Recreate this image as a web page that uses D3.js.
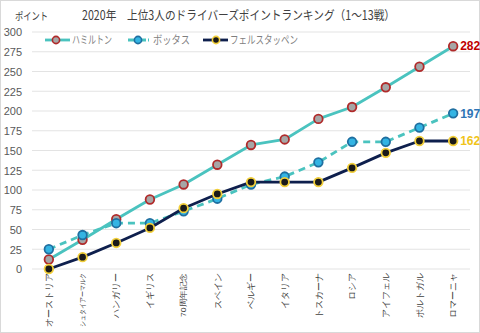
<!DOCTYPE html>
<html><head><meta charset="utf-8">
<script src="https://cdn.jsdelivr.net/npm/d3@7"></script>
<style>
html,body{margin:0;padding:0;background:#fff;}
svg{display:block;font-family:"Noto Sans CJK JP","Noto Sans",sans-serif;}
</style></head>
<body>
<svg id="c" width="480" height="333"></svg>
<script>
const categories = ["オーストリア","シュタイアーマルク","ハンガリー","イギリス","70周年記念","スペイン","ベルギー","イタリア","トスカーナ","ロシア","アイフェル","ポルトガル","ロマーニャ"];
const hamilton   = [12, 37, 63, 88, 107, 132, 157, 164, 190, 205, 230, 256, 282];
const bottas     = [25, 43, 58, 58, 73, 89, 107, 117, 135, 161, 161, 179, 197];
const verstappen = [0, 15, 33, 52, 77, 95, 110, 110, 110, 128, 147, 162, 162];
const seriesNames = ["ハミルトン","ボッタス","フェルスタッペン"];
const yTicks = [0,25,50,75,100,125,150,175,200,225,250,275,300];
const title = "2020年　上位3人のドライバーズポイントランキング（1～13戦）";
const yTitle = "ポイント";

const svg = d3.select("#c");
svg.append("rect").attr("x",0.5).attr("y",0.5).attr("width",479).attr("height",332)
  .attr("fill","#fff").attr("stroke","#d9d9d9");

const x = d3.scaleBand().domain(categories).range([32,470]);
const y = d3.scaleLinear().domain([0,300]).range([269,32]);
const cx = d => x(d) + x.bandwidth()/2;

// grid
svg.append("g").selectAll("line").data(yTicks).join("line")
  .attr("x1",32).attr("x2",470).attr("y1",d=>y(d)).attr("y2",d=>y(d))
  .attr("stroke","#e3e3e3").attr("stroke-width",1);

// y axis labels
const yAxis = d3.axisLeft(y).tickValues(yTicks).tickSize(0).tickPadding(10);
const gy = svg.append("g").attr("transform","translate(32,0)").call(yAxis);
gy.select(".domain").remove();
gy.selectAll("text").attr("font-size",11).attr("fill","#595959")
  .attr("font-family","Liberation Sans, Arial, sans-serif").attr("dy","0.35em");

// x axis labels
const xAxis = d3.axisBottom(x).tickSize(0).tickPadding(0);
const gx = svg.append("g").attr("transform","translate(0,273)").call(xAxis);
gx.select(".domain").remove();
gx.selectAll("text")
  .attr("transform","rotate(-90)")
  .attr("text-anchor","end").attr("x",0).attr("y",0).attr("dy","0.35em")
  .attr("font-size",9.2).attr("fill","#404040").attr("font-weight",500)
  .each(function(d){
    if(d==="シュタイアーマルク"){ d3.select(this).attr("font-size",7).attr("textLength",54).attr("lengthAdjust","spacingAndGlyphs"); }
    if(d==="70周年記念"){ d3.select(this).attr("font-size",8).attr("textLength",44).attr("lengthAdjust","spacingAndGlyphs"); }
  });

const line = d3.line().x((d,i)=>cx(categories[i])).y(d=>y(d));

const styles = [
  {data:hamilton, line:"#4ac3bf", dash:null, fill:"#a6a6a6", stroke:"#b02a2a", label:"#c00000"},
  {data:bottas, line:"#4ac3bf", dash:"7,5", fill:"#33b4e3", stroke:"#1f6fa0", label:"#2e75b6"},
  {data:verstappen, line:"#0e1f4d", dash:null, fill:"#1a1a1a", stroke:"#f2cf3a", label:"#f0c419"}
];

styles.forEach(s=>{
  svg.append("path").datum(s.data).attr("d",line).attr("fill","none")
    .attr("stroke",s.line).attr("stroke-width",2.8).attr("stroke-dasharray",s.dash)
    .attr("stroke-linejoin","round");
  svg.append("g").selectAll("circle").data(s.data).join("circle")
    .attr("cx",(d,i)=>cx(categories[i])).attr("cy",d=>y(d)).attr("r",4.3)
    .attr("fill",s.fill).attr("stroke",s.stroke).attr("stroke-width",1.8);
  const last = s.data[s.data.length-1];
  svg.append("text").attr("x",cx(categories[12])+7).attr("y",y(last)).attr("dy","0.35em")
    .attr("font-size",12).attr("font-weight","bold").attr("fill",s.label)
    .attr("font-family","Liberation Sans, Arial, sans-serif").text(last);
});

// title
svg.append("text").attr("x",82).attr("y",20)
  .attr("font-size",12.5).attr("fill","#404040")
  .attr("textLength",313).attr("lengthAdjust","spacingAndGlyphs").text(title);
svg.append("text").attr("x",15).attr("y",20).attr("font-size",10.5).attr("fill","#404040")
  .attr("textLength",33).attr("lengthAdjust","spacingAndGlyphs").text(yTitle);

// legend
const legend = [
  {x:45, w:25, m:56, tx:72, tw:40},
  {x:128, w:21, m:138, tx:153, tw:37},
  {x:203, w:25, m:216, tx:230, tw:68}
];
styles.forEach((s,i)=>{
  const L = legend[i];
  const g = svg.append("g").attr("transform",`translate(${L.x},40)`);
  g.append("line").attr("x1",0).attr("x2",L.w).attr("y1",0).attr("y2",0)
    .attr("stroke",s.line).attr("stroke-width",2.8).attr("stroke-dasharray",s.dash?"18,2,2,2":null);
  g.append("circle").attr("cx",L.m-L.x).attr("cy",0).attr("r",3.6)
    .attr("fill",s.fill).attr("stroke",s.stroke).attr("stroke-width",1.6);
  g.append("text").attr("x",L.tx-L.x).attr("y",0).attr("dy","0.35em")
    .attr("font-size",11).attr("fill","#7f7f7f")
    .attr("textLength",L.tw).attr("lengthAdjust","spacingAndGlyphs").text(seriesNames[i]);
});
</script>
</body></html>
